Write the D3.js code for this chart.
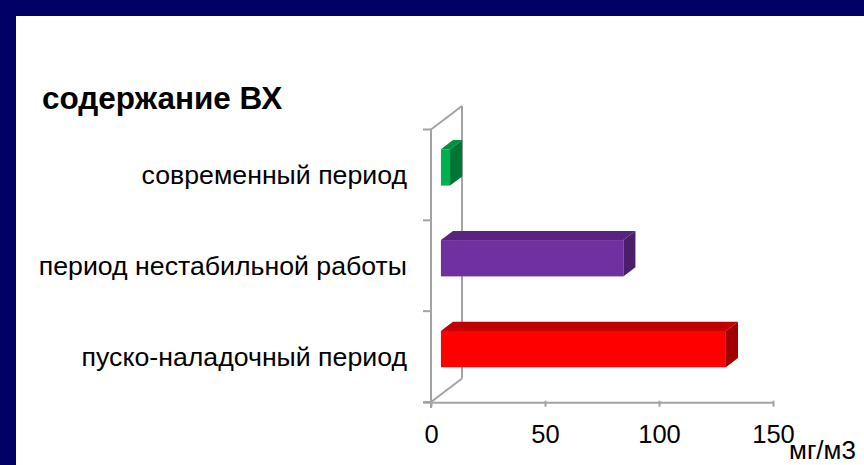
<!DOCTYPE html>
<html>
<head>
<meta charset="utf-8">
<script src="https://cdn.jsdelivr.net/npm/d3@7"></script>
<style>
  html, body { margin: 0; padding: 0; background: #ffffff; }
  svg { display: block; }
  text { font-family: "Liberation Sans", Arial, sans-serif; fill: #000; }
</style>
</head>
<body>
<svg id="chart" width="864" height="465"></svg>
<script>
// Categories listed bottom to top, as the bars are stacked on the axis
const categories = ["пуско-наладочный период", "период нестабильной работы", "современный период"];
const values = [125, 80, 4];
const frontColors = ["#ff0000", "#7030a0", "#00b050"];
const topColors = ["#c00000", "#58247f", "#00903f"];
const sideColors = ["#a00000", "#4a1e6a", "#007535"];
const xTicks = [0, 50, 100, 150];
const titleText = "содержание ВХ";
const unitText = "мг/м3";

const W = 864, H = 465;
const svg = d3.select("#chart");

// background and navy frame
svg.append("rect").attr("width", W).attr("height", H).attr("fill", "#ffffff");
svg.append("rect").attr("x", 0).attr("y", 0).attr("width", W).attr("height", 16).attr("fill", "#000066");
svg.append("rect").attr("x", 0).attr("y", 0).attr("width", 16).attr("height", H).attr("fill", "#000066");

// front-plane scales
const x = d3.scaleLinear().domain([0, 150]).range([431, 773]);
const y = d3.scaleBand().domain(categories).range([402, 129.5])
  .paddingInner(0.6).paddingOuter(0.3);

// oblique depth of the wall and the bars
const depthX = 31, depthY = -23.5;
const barFront = 0.32, barBack = 0.71;
const axisColor = "#a3a3a3";

const step = y.step();
const boundaries = categories.map(c => y(c) + y.bandwidth() + (step - y.bandwidth()) / 2);
boundaries.push(y(categories[categories.length - 1]) - (step - y.bandwidth()) / 2);

// walls
const wall = svg.append("g").attr("stroke", axisColor).attr("stroke-width", 2).attr("fill", "none");
const yTop = y.range()[1], yBot = y.range()[0];
wall.append("line").attr("x1", x(0) + depthX).attr("x2", x(0) + depthX)
  .attr("y1", yTop + depthY).attr("y2", yBot + depthY);
wall.append("line").attr("x1", x(0)).attr("x2", x(0) + depthX)
  .attr("y1", yTop).attr("y2", yTop + depthY);
wall.append("line").attr("x1", x(0)).attr("x2", x(0) + depthX)
  .attr("y1", yBot).attr("y2", yBot + depthY);
wall.append("line").attr("x1", x(0)).attr("x2", x(0))
  .attr("y1", yTop).attr("y2", yBot + 6);

// category ticks on the vertical axis
wall.selectAll("line.ytick").data(boundaries).join("line")
  .attr("class", "ytick")
  .attr("x1", x(0) - 8).attr("x2", x(0))
  .attr("y1", d => d).attr("y2", d => d);

// x axis
const xAxis = svg.append("g").attr("transform", `translate(0,${yBot + 0.7})`)
  .call(d3.axisBottom(x).tickValues(xTicks).tickSizeOuter(0).tickSizeInner(4));
xAxis.select(".domain").attr("stroke", axisColor).attr("stroke-width", 2)
  .attr("d", `M${x(0) - 8},0H${x(150)}`);
xAxis.selectAll(".tick line").attr("stroke", axisColor).attr("stroke-width", 2).attr("y1", -2);
xAxis.selectAll(".tick text").attr("dy", null).attr("y", 40)
  .style("font-size", "25.5px").attr("fill", "#000")
  .style("font-family", "'Liberation Sans', Arial, sans-serif");

// 3D bars
const bars = svg.append("g");
categories.forEach((c, i) => {
  const fx = barFront * depthX, fy = barFront * depthY;
  const dx = (barBack - barFront) * depthX, dy = (barBack - barFront) * depthY;
  const x0 = x(0) + fx, x1 = x(values[i]) + fx;
  const y0 = y(c) + fy, y1 = y0 + y.bandwidth();
  const g = bars.append("g");
  // top face
  g.append("path").attr("fill", topColors[i])
    .attr("d", `M${x0},${y0}L${x0 + dx},${y0 + dy}L${x1 + dx},${y0 + dy}L${x1},${y0}Z`);
  // end face
  g.append("path").attr("fill", sideColors[i])
    .attr("d", `M${x1},${y0}L${x1 + dx},${y0 + dy}L${x1 + dx},${y1 + dy}L${x1},${y1}Z`);
  // front face
  g.append("rect").attr("fill", frontColors[i])
    .attr("x", x0).attr("y", y0).attr("width", x1 - x0).attr("height", y1 - y0);
});

// category labels
svg.append("g").selectAll("text").data(categories).join("text")
  .attr("x", 407).attr("y", d => y(d) + y.bandwidth() / 2 + 9)
  .attr("text-anchor", "end").style("font-size", "26.7px")
  .text(d => d);

// title and unit
svg.append("text").attr("x", 42).attr("y", 109)
  .style("font-size", "31.5px").style("font-weight", "bold").text(titleText);
svg.append("text").attr("x", 789).attr("y", 459)
  .style("font-size", "26px").text(unitText);
</script>
</body>
</html>
